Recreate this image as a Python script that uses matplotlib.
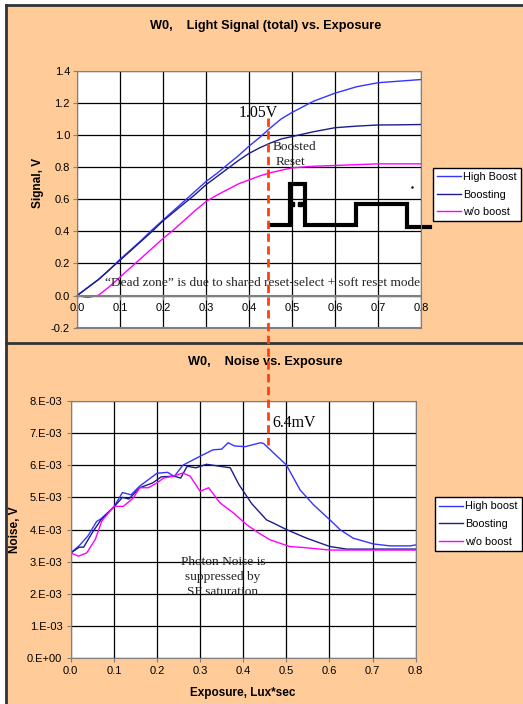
import numpy as np
import matplotlib
matplotlib.use("Agg")
import matplotlib.pyplot as plt
from matplotlib.lines import Line2D
from matplotlib.patches import Rectangle
from matplotlib.ticker import FuncFormatter, MultipleLocator

# Signal vs exposure (top chart)
exp_sig = [0, 0.025, 0.05, 0.075, 0.1, 0.125, 0.15, 0.175, 0.2, 0.225, 0.25, 0.275, 0.3,
           0.325, 0.35, 0.375, 0.4, 0.425, 0.45, 0.475, 0.5, 0.55, 0.6, 0.65, 0.7, 0.75, 0.8]
sig_high = [0, 0.05, 0.10, 0.16, 0.225, 0.285, 0.345, 0.41, 0.47, 0.53, 0.59, 0.65, 0.71,
            0.76, 0.815, 0.87, 0.93, 0.985, 1.045, 1.10, 1.14, 1.21, 1.26, 1.30, 1.325, 1.335, 1.345]
sig_boost = [0, 0.05, 0.10, 0.16, 0.22, 0.28, 0.34, 0.40, 0.465, 0.52, 0.575, 0.63, 0.69,
             0.74, 0.79, 0.84, 0.885, 0.92, 0.95, 0.975, 0.99, 1.02, 1.045, 1.055, 1.062, 1.063, 1.065]
sig_wo = [0, -0.012, 0.002, 0.055, 0.115, 0.175, 0.235, 0.295, 0.355, 0.41, 0.47, 0.53, 0.585,
          0.625, 0.66, 0.695, 0.72, 0.745, 0.765, 0.78, 0.795, 0.805, 0.81, 0.815, 0.82, 0.82, 0.82]

# boosted reset pulse sketch
pulse_x = [0.449, 0.495, 0.495, 0.530, 0.530, 0.648, 0.648, 0.767, 0.767, 0.821]
pulse_y = [0.438, 0.438, 0.695, 0.695, 0.438, 0.438, 0.571, 0.571, 0.425, 0.425]

# Noise vs exposure (bottom chart), values in mV
exp_nh = [0, 0.02, 0.04, 0.06, 0.07, 0.1, 0.12, 0.14, 0.16, 0.2, 0.225, 0.24, 0.26, 0.3,
          0.33, 0.35, 0.365, 0.38, 0.405, 0.44, 0.447, 0.5, 0.532, 0.563, 0.601, 0.625,
          0.655, 0.702, 0.74, 0.787, 0.8]
noise_high = [3.27, 3.5, 3.8, 4.25, 4.33, 4.7, 5.15, 5.08, 5.35, 5.75, 5.78, 5.65, 6.0, 6.28,
              6.48, 6.5, 6.7, 6.6, 6.58, 6.7, 6.68, 6.01, 5.23, 4.77, 4.3, 3.99,
              3.73, 3.55, 3.49, 3.49, 3.52]
exp_nb = [0, 0.02, 0.03, 0.05, 0.07, 0.1, 0.12, 0.135, 0.16, 0.19, 0.21, 0.24, 0.255, 0.27,
          0.29, 0.315, 0.345, 0.37, 0.39, 0.42, 0.454, 0.47, 0.5, 0.547, 0.601, 0.64, 0.8]
noise_boost = [3.27, 3.45, 3.45, 3.9, 4.3, 4.7, 5.0, 4.95, 5.3, 5.45, 5.64, 5.66, 5.6, 5.97,
               5.92, 6.03, 5.97, 5.92, 5.4, 4.8, 4.3, 4.2, 4.0, 3.73, 3.47, 3.39, 3.39]
exp_nw = [0, 0.018, 0.037, 0.057, 0.072, 0.1, 0.122, 0.145, 0.16, 0.18, 0.2, 0.215, 0.238,
          0.26, 0.277, 0.3, 0.32, 0.346, 0.377, 0.408, 0.435, 0.462, 0.508, 0.539, 0.601, 0.8]
noise_wo = [3.27, 3.17, 3.27, 3.69, 4.26, 4.72, 4.72, 4.98, 5.3, 5.3, 5.45, 5.6, 5.66,
            5.76, 5.66, 5.19, 5.3, 4.83, 4.52, 4.15, 3.9, 3.68, 3.47, 3.44, 3.36, 3.36]

c_high = '#3535FF'
c_boost = '#1C1C8C'
c_wo = '#FF00FF'
bg = '#FFCC99'

W, H = 523, 704
fig = plt.figure(figsize=(W / 100, H / 100), dpi=100, facecolor='white')

def fx(px):
    return px / W

def fy(py):
    return 1 - py / H

# orange panels with dark borders
fig.patches.append(Rectangle((fx(6), 0), 1 - fx(6), fy(5), transform=fig.transFigure,
                             facecolor=bg, edgecolor='none', zorder=-2))
for xs, ys in [([6, 523], [5, 5]), ([6, 6], [5, 704]), ([6, 523], [343, 343])]:
    fig.lines.append(Line2D([fx(x) for x in xs], [fy(y) for y in ys], transform=fig.transFigure,
                            color='#333333', lw=2, zorder=-1))

legend_opts = dict(prop=dict(family='Liberation Sans', size=7.8), frameon=True, fancybox=False,
                   edgecolor='black', framealpha=1, handlelength=2.2, borderpad=0.4,
                   labelspacing=0.7, handletextpad=0.2, borderaxespad=0, loc='center left',
                   bbox_transform=fig.transFigure)

# ---- top chart ----
ax1 = fig.add_axes([fx(77), fy(327.7), fx(344), 257 / H])
ax1.set_facecolor('white')
ax1.plot(exp_sig, sig_high, color=c_high, lw=1, label='High Boost')
ax1.plot(exp_sig, sig_boost, color=c_boost, lw=1, label='Boosting')
ax1.plot(exp_sig, sig_wo, color=c_wo, lw=1, label='w/o boost')
ax1.plot(pulse_x, pulse_y, color='black', lw=3, clip_on=False, solid_joinstyle='miter')
ax1.plot([0.499, 0.519], [0.571, 0.571], 's', color='black', ms=2.5)
ax1.plot([0.779], [0.679], '.', color='black', ms=1.5)
ax1.set_xlim(0, 0.8)
ax1.set_ylim(-0.2, 1.4)
ax1.xaxis.set_major_locator(MultipleLocator(0.1))
ax1.yaxis.set_major_locator(MultipleLocator(0.2))
ax1.grid(True, color='black', lw=0.9)
ax1.set_axisbelow(True)
ax1.spines['bottom'].set_position(('data', 0))
ax1.spines['bottom'].set_color('#808080')
ax1.spines['bottom'].set_linewidth(1.5)
for s in ['top', 'left', 'right']:
    ax1.spines[s].set_color('#808080')
ax1.axhline(-0.2, color='#808080', lw=1.5, clip_on=False)
ax1.tick_params(length=3, color='#808080', pad=2, labelsize=8)
ax1.xaxis.set_major_formatter(FuncFormatter(lambda v, p: f"{v:.1f}"))
ax1.yaxis.set_major_formatter(FuncFormatter(lambda v, p: f"{v:.1f}"))
for lab in ax1.get_xticklabels() + ax1.get_yticklabels():
    lab.set_fontfamily('Liberation Sans')
fig.text(fx(38), fy(183), 'Signal, V', rotation=90, ha='center', va='center',
         family='Liberation Sans', weight='bold', size=8.5)
fig.text(fx(265.5), fy(26), 'W0,    Light Signal (total) vs. Exposure', ha='center', va='center',
         family='Liberation Sans', weight='bold', size=9.2)
ax1.legend(bbox_to_anchor=(fx(433), fy(194.5)), **legend_opts)

serif = 'Liberation Serif'
fig.text(fx(258), fy(112.7), '1.05V', ha='center', va='center', family=serif, size=11.4)
fig.text(fx(294), fy(146.7), 'Boosted', ha='center', va='center', family=serif, size=9.6, color='#222222')
fig.text(fx(291), fy(161.7), 'Reset', ha='center', va='center', family=serif, size=9.6, color='#222222')
fig.text(fx(262.5), fy(283), '\u201cDead zone\u201d is due to shared reset-select + soft reset mode',
         ha='center', va='center', family=serif, size=9.6, color='#222222')

# ---- bottom chart ----
ax2 = fig.add_axes([fx(70.7), fy(658), fx(345), 257 / H])
ax2.set_facecolor('white')
ax2.plot(exp_nh, np.array(noise_high) * 1e-3, color=c_high, lw=1, label='High boost')
ax2.plot(exp_nb, np.array(noise_boost) * 1e-3, color=c_boost, lw=1, label='Boosting')
ax2.plot(exp_nw, np.array(noise_wo) * 1e-3, color=c_wo, lw=1, label='w/o boost')
ax2.set_xlim(0, 0.8)
ax2.set_ylim(0, 8e-3)
ax2.xaxis.set_major_locator(MultipleLocator(0.1))
ax2.yaxis.set_major_locator(MultipleLocator(1e-3))
ax2.grid(True, color='black', lw=0.9)
ax2.set_axisbelow(True)
for s in ax2.spines.values():
    s.set_color('#808080')
ax2.tick_params(length=3, color='#808080', pad=3, labelsize=8)

def noise_fmt(v, p):
    n = int(round(v * 1e3))
    return '0.E+00' if n == 0 else f"{n}.E-03"

ax2.yaxis.set_major_formatter(FuncFormatter(noise_fmt))
ax2.xaxis.set_major_formatter(FuncFormatter(lambda v, p: f"{v:.1f}"))
for lab in ax2.get_xticklabels() + ax2.get_yticklabels():
    lab.set_fontfamily('Liberation Sans')
fig.text(fx(15), fy(530), 'Noise, V', rotation=90, ha='center', va='center',
         family='Liberation Sans', weight='bold', size=8.5)
fig.text(fx(243), fy(693), 'Exposure, Lux*sec', ha='center', va='center',
         family='Liberation Sans', weight='bold', size=8.5)
fig.text(fx(265), fy(362), 'W0,    Noise vs. Exposure', ha='center', va='center',
         family='Liberation Sans', weight='bold', size=9.2)
ax2.legend(bbox_to_anchor=(fx(435), fy(524)), **legend_opts)

fig.text(fx(294), fy(422.7), '6.4mV', ha='center', va='center', family=serif, size=11.4)
for txt, yy in [('Photon Noise is', 561.7), ('suppressed by', 577), ('SF saturation', 591.7)]:
    fig.text(fx(223), fy(yy), txt, ha='center', va='center', family=serif, size=9.6, color='#222222')

# red dashed marker crossing both charts
fig.lines.append(Line2D([fx(268), fx(268)], [fy(118), fy(445)], transform=fig.transFigure,
                        color='#FF4010', lw=2, linestyle=(0, (3, 1.6)), zorder=10))

fig.savefig('out.png', dpi=100, facecolor=fig.get_facecolor())
